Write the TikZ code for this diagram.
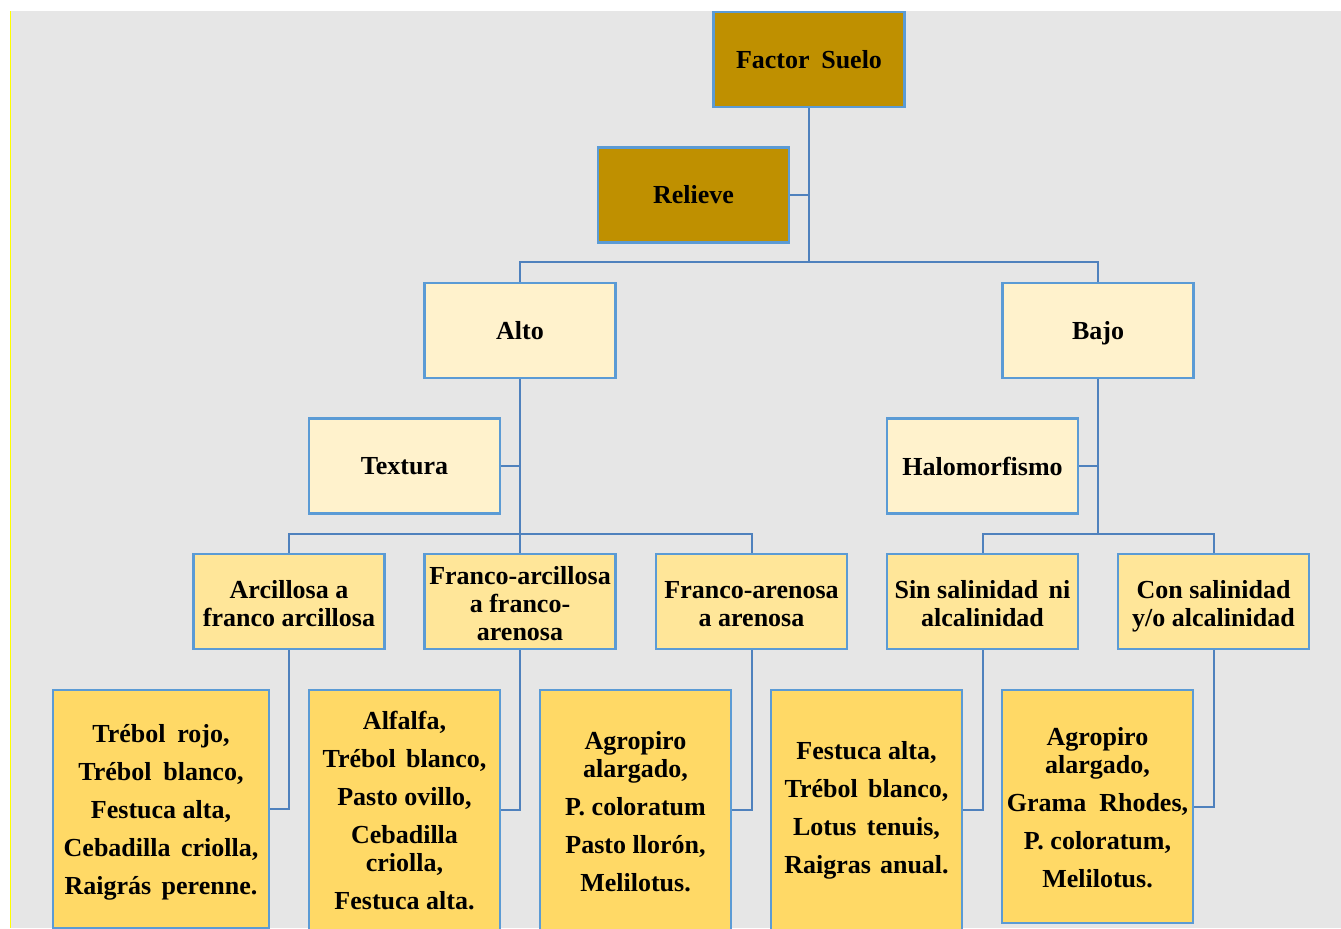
\documentclass[tikz,border=0pt]{standalone}
\usepackage{fontspec}
\setmainfont{Liberation Serif}
\definecolor{bgc}{HTML}{E6E6E6}
\definecolor{goldc}{HTML}{BF9000}
\definecolor{ltc}{HTML}{FFF2CC}
\definecolor{mdc}{HTML}{FFE699}
\definecolor{dkc}{HTML}{FFD966}
\definecolor{bordc}{HTML}{5B9BD5}
\definecolor{connc}{HTML}{4F81BD}
\definecolor{edgey}{HTML}{FFFF00}
\newcommand{\nodp}[1]{\raisebox{0pt}[\height][0pt]{#1}}
\newcommand{\tallmid}{\rule{0pt}{16.5pt}}
\newcommand{\tallleaf}{\rule{0pt}{15.8pt}}
\tikzset{
  boxbase/.style={draw=bordc, line width=1.6pt, minimum width=143.25pt, minimum height=71.25pt,
    inner sep=2pt, align=center, text=black, font=\bfseries\fontsize{19.5}{21}\selectfont},
  boxtop/.style={boxbase, fill=goldc},
  boxlvl/.style={boxbase, fill=ltc},
  boxmid/.style={boxbase, fill=mdc},
  boxleaf/.style={boxbase, fill=dkc, anchor=north, minimum height=180pt},
  linkline/.style={draw=connc, line width=1.5pt},
}
\begin{document}
\begin{tikzpicture}[x=0.75pt, y=-0.75pt]
\useasboundingbox (0,0) rectangle (1341,928);
\clip (0,0) rectangle (1341,928);
\fill[bgc] (11,11) rectangle (1341,928);
\draw[edgey, line width=0.9pt] (10.5,11) -- (10.5,928);

% level 0/1
\node[boxtop] (fs) at (809,59.5) {Factor\hspace{0.45em}Suelo};
\node[boxtop] (rel) at (693.5,195) {Relieve};
% level 2
\node[boxlvl] (alto) at (520,330.5) {Alto};
\node[boxlvl] (bajo) at (1098,330.5) {\nodp{Bajo}};
\node[boxlvl] (tex) at (404.5,466) {Textura};
\node[boxlvl] (halo) at (982.5,466) {Halomorfismo};
% level 3
\node[boxmid] (arc) at (289,601.5) {\tallmid Arcillosa a\\franco arcillosa};
\node[boxmid] (fa) at (520,601.5) {\tallmid Franco-arcillosa\\a franco-\\arenosa};
\node[boxmid] (farena) at (751.5,601.5) {\tallmid Franco-arenosa\\a arenosa};
\node[boxmid] (sin) at (982.5,601.5) {\tallmid Sin salinidad\hspace{0.4em}ni\\alcalinidad};
\node[boxmid] (con) at (1213.5,601.5) {\tallmid Con salinidad\\\nodp{y/o alcalinidad}};
% leaves
\node[boxleaf, minimum width=162pt, minimum height=178.5pt] (l1) at (161,689)
  {Trébol\hspace{0.45em}rojo,\\[7.5pt]Trébol\hspace{0.45em}blanco,\\[7.5pt]Festuca alta,\\[7.5pt]Cebadilla\hspace{0.4em}criolla,\\[7.5pt]\nodp{Raigrás\hspace{0.4em}perenne.}};
\node[boxleaf] (l2) at (404.5,689)
  {Alfalfa,\\[7.5pt]Trébol\hspace{0.4em}blanco,\\[7.5pt]Pasto ovillo,\\[7.5pt]Cebadilla\\criolla,\\[7.5pt]Festuca alta.};
\node[boxleaf] (l3) at (635.5,689)
  {\tallleaf Agropiro\\alargado,\\[7.5pt]P. coloratum\\[7.5pt]Pasto llorón,\\[7.5pt]Melilotus.};
\node[boxleaf] (l4) at (866.5,689)
  {Festuca alta,\\[7.5pt]Trébol\hspace{0.4em}blanco,\\[7.5pt]Lotus\hspace{0.4em}tenuis,\\[7.5pt]Raigras\hspace{0.35em}anual.};
\node[boxleaf, minimum height=174.75pt] (l5) at (1097.5,689)
  {\tallleaf Agropiro\\alargado,\\[7.5pt]Grama\hspace{0.5em}Rhodes,\\[7.5pt]P. coloratum,\\[7.5pt]Melilotus.};

% connectors
\coordinate (j1) at (809,262);
\coordinate (j2) at (520,534);
\coordinate (j3) at (1098,534);
\draw[linkline] (fs) -- (j1);
\draw[linkline] (rel.east) -- (rel.east -| j1);
\draw[linkline] (j1) -| (alto);
\draw[linkline] (j1) -| (bajo);
\draw[linkline] (alto) -- (j2);
\draw[linkline] (tex.east) -- (tex.east -| j2);
\draw[linkline] (j2) -| (arc);
\draw[linkline] (j2) -- (fa);
\draw[linkline] (j2) -| (farena);
\draw[linkline] (bajo) -- (j3);
\draw[linkline] (halo.east) -- (halo.east -| j3);
\draw[linkline] (j3) -| (sin);
\draw[linkline] (j3) -| (con);
\draw[linkline] (arc) |- (l1);
\draw[linkline] (fa) |- (l2);
\draw[linkline] (farena) |- (l3);
\draw[linkline] (sin) |- (l4);
\draw[linkline] (con) |- (l5);
\end{tikzpicture}
\end{document}
